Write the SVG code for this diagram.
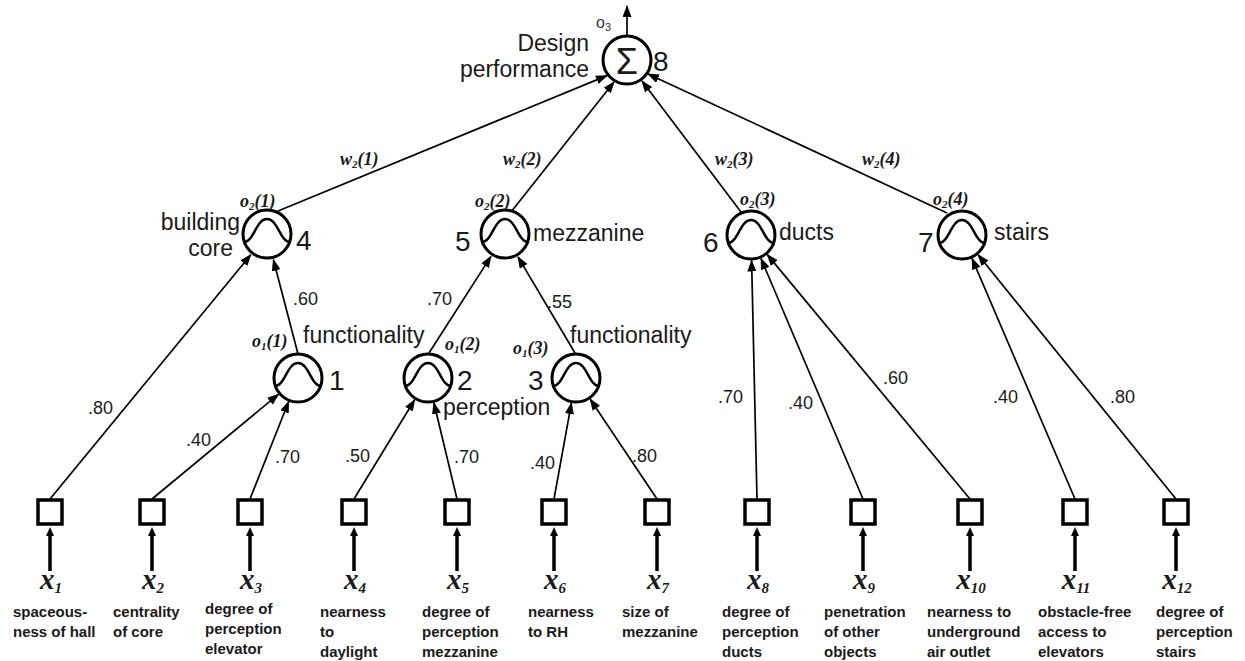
<svg xmlns="http://www.w3.org/2000/svg" width="1245" height="661" viewBox="0 0 1245 661">
<style>
.nc{fill:#fff;stroke:#000;stroke-width:3}
.bell{fill:none;stroke:#000;stroke-width:2.5}
.sq{fill:#fff;stroke:#000;stroke-width:3.5}
.edge{stroke:#000;stroke-width:1.7;fill:none;marker-end:url(#ah)}
.inp{stroke:#000;stroke-width:3.5;fill:none;marker-end:url(#ah2)}
.lbl{font-family:"Liberation Sans",Arial,sans-serif;font-size:23px;fill:#1a1a1a}
.num{font-family:"Liberation Sans",Arial,sans-serif;font-size:28px;fill:#1a1a1a}
.w{font-family:"Liberation Sans",Arial,sans-serif;font-size:18px;fill:#1a1a1a}
.it{font-family:"Liberation Serif","Times New Roman",serif;font-style:italic;font-weight:bold;font-size:18px;fill:#1a1a1a}
.xl{font-family:"Liberation Serif","Times New Roman",serif;font-style:italic;font-weight:bold;font-size:29px;fill:#1a1a1a}
.desc{font-family:"Liberation Sans",Arial,sans-serif;font-weight:bold;font-size:15px;fill:#1a1a1a}
</style>
<defs>
<marker id="ah" markerUnits="userSpaceOnUse" markerWidth="14" markerHeight="10" refX="11" refY="4.5" orient="auto"><path d="M0,0 L12,4.5 L0,9 z" fill="#000"/></marker>
<marker id="ah2" markerUnits="userSpaceOnUse" markerWidth="12" markerHeight="10" refX="0" refY="4" orient="auto"><path d="M0,0 L9,4 L0,8 z" fill="#000"/></marker>
<path id="bell" d="M-23,8 C-13,8 -11,-15 0,-15 C11,-15 13,8 23,8"/>
</defs>
<rect width="1245" height="661" fill="#fff"/>

<g id="connectors">
<line class="edge" x1="627" y1="36" x2="627" y2="6"/>
<line class="edge" x1="278" y1="211" x2="607" y2="75.6"/>
<line class="edge" x1="511" y1="212" x2="614" y2="82"/>
<line class="edge" x1="741" y1="212" x2="642" y2="81"/>
<line class="edge" x1="947" y1="213" x2="648" y2="74"/>
<line class="edge" x1="298" y1="354" x2="273.4" y2="259.7"/>
<line class="edge" x1="429" y1="353" x2="491" y2="256.4"/>
<line class="edge" x1="575" y1="353" x2="518" y2="256.9"/>
<line class="edge" x1="50" y1="499" x2="250.8" y2="254.7"/>
<line class="edge" x1="152" y1="499" x2="278.4" y2="394.3"/>
<line class="edge" x1="250" y1="499" x2="288.6" y2="401.7"/>
<line class="edge" x1="354" y1="499" x2="414.7" y2="399.8"/>
<line class="edge" x1="457" y1="499" x2="433.9" y2="402.8"/>
<line class="edge" x1="554" y1="499" x2="571.4" y2="403.1"/>
<line class="edge" x1="657" y1="499" x2="590.2" y2="399.2"/>
<line class="edge" x1="757" y1="499" x2="751.6" y2="260.5"/>
<line class="edge" x1="863" y1="499" x2="761" y2="258.5"/>
<line class="edge" x1="970" y1="499" x2="767.3" y2="254.6"/>
<line class="edge" x1="1075" y1="499" x2="972" y2="258.4"/>
<line class="edge" x1="1176" y1="499" x2="978.1" y2="254.8"/>
<g id="input-arrows">
<line class="inp" x1="50" y1="571" x2="50" y2="536"/>
<line class="inp" x1="152" y1="571" x2="152" y2="536"/>
<line class="inp" x1="250" y1="571" x2="250" y2="536"/>
<line class="inp" x1="354" y1="571" x2="354" y2="536"/>
<line class="inp" x1="457" y1="571" x2="457" y2="536"/>
<line class="inp" x1="554" y1="571" x2="554" y2="536"/>
<line class="inp" x1="657" y1="571" x2="657" y2="536"/>
<line class="inp" x1="757" y1="571" x2="757" y2="536"/>
<line class="inp" x1="863" y1="571" x2="863" y2="536"/>
<line class="inp" x1="970" y1="571" x2="970" y2="536"/>
<line class="inp" x1="1075" y1="571" x2="1075" y2="536"/>
<line class="inp" x1="1176" y1="571" x2="1176" y2="536"/>
</g>
<g id="weights">
<text class="it" x="340" y="165">w<tspan font-size="11" dy="3">2</tspan><tspan dy="-3">(1)</tspan></text>
<text class="it" x="503" y="165">w<tspan font-size="11" dy="3">2</tspan><tspan dy="-3">(2)</tspan></text>
<text class="it" x="715" y="165">w<tspan font-size="11" dy="3">2</tspan><tspan dy="-3">(3)</tspan></text>
<text class="it" x="862" y="165">w<tspan font-size="11" dy="3">2</tspan><tspan dy="-3">(4)</tspan></text>
<text class="w" x="293" y="305">.60</text>
<text class="w" x="427" y="305">.70</text>
<text class="w" x="547" y="308">.55</text>
<text class="w" x="88" y="414">.80</text>
<text class="w" x="186" y="446">.40</text>
<text class="w" x="275" y="463">.70</text>
<text class="w" x="345" y="462">.50</text>
<text class="w" x="454" y="463">.70</text>
<text class="w" x="530" y="469">.40</text>
<text class="w" x="632" y="462">.80</text>
<text class="w" x="718" y="403">.70</text>
<text class="w" x="788" y="409">.40</text>
<text class="w" x="883" y="384">.60</text>
<text class="w" x="993" y="403">.40</text>
<text class="w" x="1110" y="403">.80</text>
</g>
</g>

<g id="node8">
<circle class="nc" cx="627" cy="60" r="24"/>
<text x="627" y="74" text-anchor="middle" font-family="'Liberation Sans',Arial,sans-serif" font-size="36" fill="#1a1a1a">Σ</text>
<text class="num" x="653" y="71" font-size="30">8</text>
<text class="lbl" x="589" y="51" text-anchor="end" font-size="22">Design</text>
<text class="lbl" x="589" y="77" text-anchor="end" font-size="22">performance</text>
<text x="596" y="28" font-family="'Liberation Sans',Arial,sans-serif" font-size="16" fill="#333">o<tspan font-size="11" dy="3">3</tspan></text>
</g>

<g id="node4">
<circle class="nc" cx="267" cy="234" r="24"/>
<use href="#bell" class="bell" x="267" y="234"/>
<text class="num" x="296" y="250">4</text>
<text class="lbl" x="240" y="230" text-anchor="end" font-size="22">building</text>
<text class="lbl" x="233" y="256" text-anchor="end" font-size="22">core</text>
<text class="it" x="240" y="207">o<tspan font-size="11" dy="3">2</tspan><tspan dy="-3">(1)</tspan></text>
</g>
<g id="node5">
<circle class="nc" cx="505" cy="234" r="24"/>
<use href="#bell" class="bell" x="505" y="234"/>
<text class="num" x="455" y="251">5</text>
<text class="lbl" x="533" y="241">mezzanine</text>
<text class="it" x="475" y="207">o<tspan font-size="11" dy="3">2</tspan><tspan dy="-3">(2)</tspan></text>
</g>
<g id="node6">
<circle class="nc" cx="751" cy="235" r="24"/>
<use href="#bell" class="bell" x="751" y="235"/>
<text class="num" x="703" y="252">6</text>
<text class="lbl" x="779" y="240">ducts</text>
<text class="it" x="740" y="205">o<tspan font-size="11" dy="3">2</tspan><tspan dy="-3">(3)</tspan></text>
</g>
<g id="node7">
<circle class="nc" cx="962" cy="235" r="24"/>
<use href="#bell" class="bell" x="962" y="235"/>
<text class="num" x="918" y="252">7</text>
<text class="lbl" x="994" y="240">stairs</text>
<text class="it" x="933" y="205">o<tspan font-size="11" dy="3">2</tspan><tspan dy="-3">(4)</tspan></text>
</g>
<g id="node1">
<circle class="nc" cx="298" cy="378" r="24"/>
<use href="#bell" class="bell" x="298" y="378"/>
<text class="num" x="329" y="390">1</text>
<text class="lbl" x="303" y="343">functionality</text>
<text class="it" x="252" y="347">o<tspan font-size="11" dy="3">1</tspan><tspan dy="-3">(1)</tspan></text>
</g>
<g id="node2">
<circle class="nc" cx="428" cy="378" r="24"/>
<use href="#bell" class="bell" x="428" y="378"/>
<text class="num" x="457" y="390">2</text>
<text class="lbl" x="443" y="415">perception</text>
<text class="it" x="445" y="350">o<tspan font-size="11" dy="3">1</tspan><tspan dy="-3">(2)</tspan></text>
</g>
<g id="node3">
<circle class="nc" cx="576" cy="378" r="24"/>
<use href="#bell" class="bell" x="576" y="378"/>
<text class="num" x="528" y="390">3</text>
<text class="lbl" x="570" y="343">functionality</text>
<text class="it" x="513" y="354">o<tspan font-size="11" dy="3">1</tspan><tspan dy="-3">(3)</tspan></text>
</g>

<g id="x1"><rect class="sq" x="38" y="500" width="24" height="24"/><text class="xl" x="51" y="589" text-anchor="middle">x<tspan font-size="15" dy="4">1</tspan></text><text class="desc" x="13" y="617">spaceous-</text><text class="desc" x="13" y="637">ness of hall</text></g>
<g id="x2"><rect class="sq" x="140" y="500" width="24" height="24"/><text class="xl" x="153" y="589" text-anchor="middle">x<tspan font-size="15" dy="4">2</tspan></text><text class="desc" x="113" y="617">centrality</text><text class="desc" x="113" y="637">of core</text></g>
<g id="x3"><rect class="sq" x="238" y="500" width="24" height="24"/><text class="xl" x="251" y="589" text-anchor="middle">x<tspan font-size="15" dy="4">3</tspan></text><text class="desc" x="205" y="614">degree of</text><text class="desc" x="205" y="634">perception</text><text class="desc" x="205" y="654">elevator</text></g>
<g id="x4"><rect class="sq" x="342" y="500" width="24" height="24"/><text class="xl" x="355" y="589" text-anchor="middle">x<tspan font-size="15" dy="4">4</tspan></text><text class="desc" x="320" y="617">nearness</text><text class="desc" x="320" y="637">to</text><text class="desc" x="320" y="657">daylight</text></g>
<g id="x5"><rect class="sq" x="445" y="500" width="24" height="24"/><text class="xl" x="458" y="589" text-anchor="middle">x<tspan font-size="15" dy="4">5</tspan></text><text class="desc" x="422" y="617">degree of</text><text class="desc" x="422" y="637">perception</text><text class="desc" x="422" y="657">mezzanine</text></g>
<g id="x6"><rect class="sq" x="542" y="500" width="24" height="24"/><text class="xl" x="555" y="589" text-anchor="middle">x<tspan font-size="15" dy="4">6</tspan></text><text class="desc" x="528" y="617">nearness</text><text class="desc" x="528" y="637">to RH</text></g>
<g id="x7"><rect class="sq" x="645" y="500" width="24" height="24"/><text class="xl" x="658" y="589" text-anchor="middle">x<tspan font-size="15" dy="4">7</tspan></text><text class="desc" x="622" y="617">size of</text><text class="desc" x="622" y="637">mezzanine</text></g>
<g id="x8"><rect class="sq" x="745" y="500" width="24" height="24"/><text class="xl" x="758" y="589" text-anchor="middle">x<tspan font-size="15" dy="4">8</tspan></text><text class="desc" x="722" y="617">degree of</text><text class="desc" x="722" y="637">perception</text><text class="desc" x="722" y="657">ducts</text></g>
<g id="x9"><rect class="sq" x="851" y="500" width="24" height="24"/><text class="xl" x="864" y="589" text-anchor="middle">x<tspan font-size="15" dy="4">9</tspan></text><text class="desc" x="824" y="617">penetration</text><text class="desc" x="824" y="637">of other</text><text class="desc" x="824" y="657">objects</text></g>
<g id="x10"><rect class="sq" x="958" y="500" width="24" height="24"/><text class="xl" x="971" y="589" text-anchor="middle">x<tspan font-size="15" dy="4">10</tspan></text><text class="desc" x="927" y="617">nearness to</text><text class="desc" x="927" y="637">underground</text><text class="desc" x="927" y="657">air outlet</text></g>
<g id="x11"><rect class="sq" x="1063" y="500" width="24" height="24"/><text class="xl" x="1076" y="589" text-anchor="middle">x<tspan font-size="15" dy="4">11</tspan></text><text class="desc" x="1038" y="617">obstacle-free</text><text class="desc" x="1038" y="637">access to</text><text class="desc" x="1038" y="657">elevators</text></g>
<g id="x12"><rect class="sq" x="1164" y="500" width="24" height="24"/><text class="xl" x="1177" y="589" text-anchor="middle">x<tspan font-size="15" dy="4">12</tspan></text><text class="desc" x="1156" y="617">degree of</text><text class="desc" x="1156" y="637">perception</text><text class="desc" x="1156" y="657">stairs</text></g>
</svg>
